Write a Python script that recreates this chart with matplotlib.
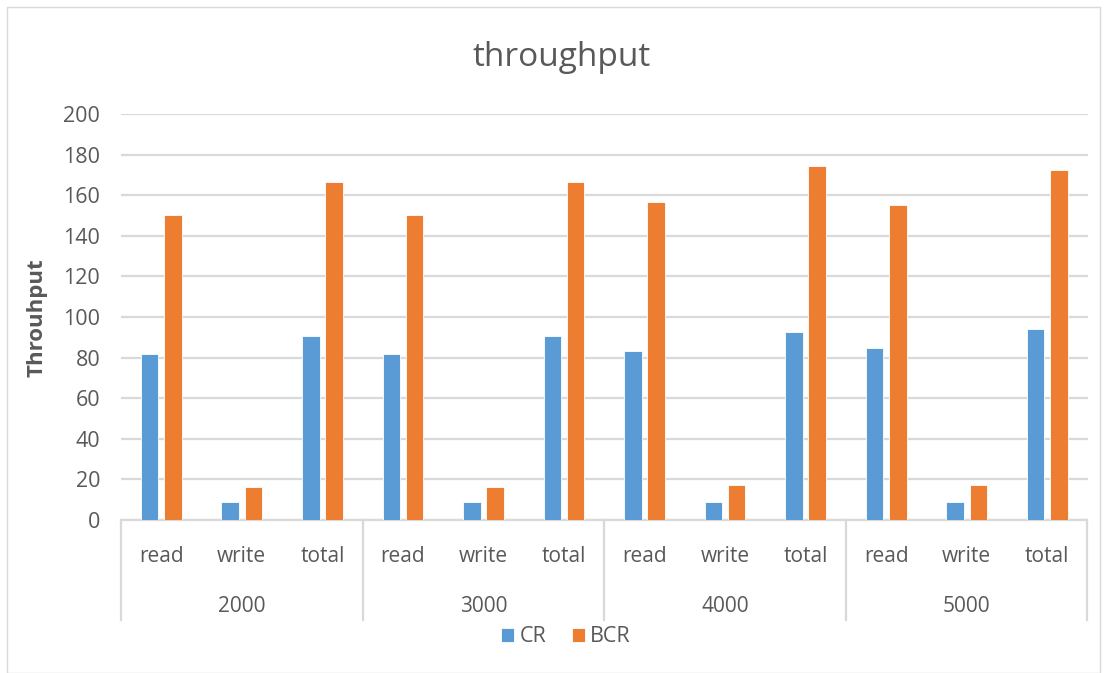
import numpy as np
import matplotlib
matplotlib.use("Agg")
import matplotlib.pyplot as plt
from matplotlib.patches import Rectangle

# data
groups = ["2000", "3000", "4000", "5000"]
ops = ["read", "write", "total"]
cr = [82, 8.7, 90.8, 82, 8.7, 90.8, 83.3, 8.7, 92.8, 84.6, 8.7, 94.2]
bcr = [150, 16.5, 166.7, 150, 16.5, 166.7, 156.5, 17, 174.2, 155, 17, 172.3]

BLUE = "#5B9BD5"
ORANGE = "#ED7D31"
GRID = "#D9D9D9"
TXT = "#595959"

plt.rcParams["font.family"] = ["Open Sans", "DejaVu Sans"]

W, H = 1107, 673
fig = plt.figure(figsize=(W / 100, H / 100), dpi=100)
fig.patches.append(Rectangle((7 / W, 0), (1100 - 7) / W, 1 - 7 / H, transform=fig.transFigure,
                             fill=False, edgecolor=GRID, linewidth=1))

left, right, top, bottom = 121, 1087.5, 114, 520
ax = fig.add_axes([left / W, 1 - bottom / H, (right - left) / W, (bottom - top) / H])

x = np.arange(len(cr))
bw = 0.218
off = 0.144
ax.bar(x - off, cr, bw, color=BLUE, edgecolor="white", linewidth=0.6, label="CR", zorder=3)
ax.bar(x + off, bcr, bw, color=ORANGE, edgecolor="white", linewidth=0.6, label="BCR", zorder=3)

ax.set_xlim(-0.5, len(cr) - 0.5)
ax.set_ylim(0, 200)
ax.set_yticks(range(0, 201, 20))
ax.yaxis.grid(True, color=GRID, linewidth=1.6)
ax.set_axisbelow(True)
for s in ["top", "right", "left"]:
    ax.spines[s].set_visible(False)
ax.spines["bottom"].set_color(GRID)
ax.spines["bottom"].set_linewidth(1.6)
ax.tick_params(axis="y", length=0, labelsize=15.5, labelcolor=TXT, pad=15)
ax.set_xticks([])

# category labels, group labels and separators below the axis
trans = ax.get_xaxis_transform()
ph = bottom - top
for i, lab in enumerate(ops * len(groups)):
    ax.text(i, -(556 - bottom) / ph, lab, transform=trans,
            ha="center", va="center", fontsize=15, color=TXT)
for i, g in enumerate(groups):
    ax.text(i * 3 + 1, -(607 - bottom) / ph, g, transform=trans,
            ha="center", va="center", fontsize=15, color=TXT)
for i in range(len(groups) + 1):
    ax.plot([i * 3 - 0.5] * 2, [0, -(620 - bottom) / ph], transform=trans, color=GRID,
            linewidth=1.6, clip_on=False)

fig.text(562 / W, 1 - 58 / H, "throughput", ha="center", va="center", fontsize=24, color=TXT)
fig.text(37 / W, 1 - 318 / H, "Throuhput", ha="center", va="center", rotation=90,
         fontsize=16, fontweight="bold", color=TXT)

fig.legend(loc="center", bbox_to_anchor=(566 / W, 1 - 637 / H), ncol=2, frameon=False,
           handlelength=0.6, handleheight=0.6, handletextpad=0.25, columnspacing=1.2,
           fontsize=15.5, labelcolor=TXT)

fig.savefig("out.png", dpi=100)
